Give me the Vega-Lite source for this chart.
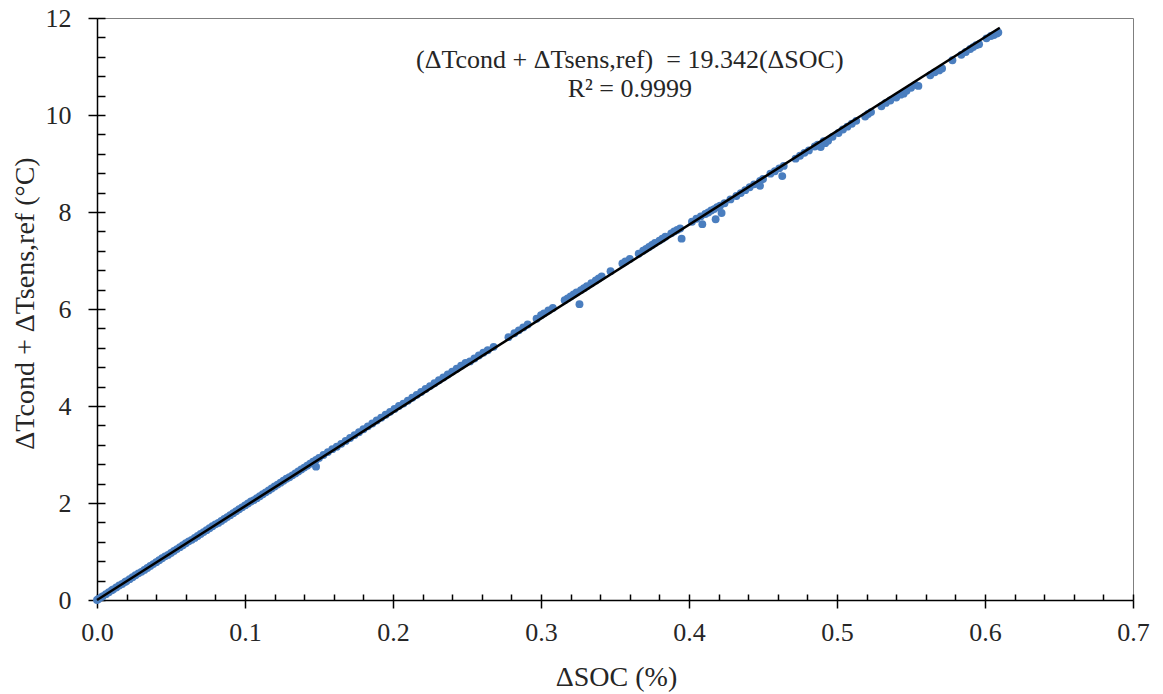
{
  "$schema": "https://vega.github.io/schema/vega-lite/v6.json",
  "width": 1036,
  "height": 582,
  "autosize": {"type": "none"},
  "padding": {"left": 97, "top": 18, "right": 30, "bottom": 94},
  "background": "white",
  "config": {
    "view": {"stroke": "#7f7f7f", "strokeWidth": 1},
    "axis": {"labelFont": "Liberation Serif", "titleFont": "Liberation Serif", "labelColor": "#262626", "titleColor": "#262626", "grid": false, "domainColor": "#000000", "tickColor": "#000000", "domainWidth": 1.5, "tickWidth": 1.5, "labelFlush": false, "labelOverlap": false}
  },
  "datasets": {
    "pts": [
      {"soc": 0.000, "dT": 0.00}, {"soc": 0.001, "dT": 0.02}, {"soc": 0.003, "dT": 0.06}, {"soc": 0.004, "dT": 0.08},
      {"soc": 0.006, "dT": 0.12}, {"soc": 0.008, "dT": 0.16}, {"soc": 0.010, "dT": 0.20}, {"soc": 0.011, "dT": 0.22},
      {"soc": 0.013, "dT": 0.26}, {"soc": 0.015, "dT": 0.30}, {"soc": 0.017, "dT": 0.33}, {"soc": 0.019, "dT": 0.37},
      {"soc": 0.020, "dT": 0.39}, {"soc": 0.022, "dT": 0.43}, {"soc": 0.024, "dT": 0.47}, {"soc": 0.026, "dT": 0.51},
      {"soc": 0.028, "dT": 0.55}, {"soc": 0.030, "dT": 0.58}, {"soc": 0.032, "dT": 0.62}, {"soc": 0.034, "dT": 0.66},
      {"soc": 0.036, "dT": 0.70}, {"soc": 0.038, "dT": 0.74}, {"soc": 0.040, "dT": 0.78}, {"soc": 0.042, "dT": 0.82},
      {"soc": 0.044, "dT": 0.86}, {"soc": 0.046, "dT": 0.90}, {"soc": 0.048, "dT": 0.93}, {"soc": 0.050, "dT": 0.97},
      {"soc": 0.052, "dT": 1.01}, {"soc": 0.054, "dT": 1.05}, {"soc": 0.056, "dT": 1.09}, {"soc": 0.058, "dT": 1.13},
      {"soc": 0.060, "dT": 1.17}, {"soc": 0.062, "dT": 1.21}, {"soc": 0.064, "dT": 1.24}, {"soc": 0.066, "dT": 1.28},
      {"soc": 0.068, "dT": 1.32}, {"soc": 0.070, "dT": 1.36}, {"soc": 0.072, "dT": 1.40}, {"soc": 0.074, "dT": 1.44},
      {"soc": 0.076, "dT": 1.48}, {"soc": 0.078, "dT": 1.52}, {"soc": 0.080, "dT": 1.56}, {"soc": 0.082, "dT": 1.59},
      {"soc": 0.084, "dT": 1.63}, {"soc": 0.086, "dT": 1.67}, {"soc": 0.088, "dT": 1.71}, {"soc": 0.090, "dT": 1.75},
      {"soc": 0.092, "dT": 1.79}, {"soc": 0.094, "dT": 1.83}, {"soc": 0.096, "dT": 1.87}, {"soc": 0.098, "dT": 1.91},
      {"soc": 0.100, "dT": 1.95}, {"soc": 0.102, "dT": 1.99}, {"soc": 0.104, "dT": 2.03}, {"soc": 0.106, "dT": 2.06},
      {"soc": 0.108, "dT": 2.10}, {"soc": 0.110, "dT": 2.14}, {"soc": 0.112, "dT": 2.18}, {"soc": 0.114, "dT": 2.22},
      {"soc": 0.116, "dT": 2.26}, {"soc": 0.118, "dT": 2.30}, {"soc": 0.120, "dT": 2.34}, {"soc": 0.122, "dT": 2.38},
      {"soc": 0.124, "dT": 2.42}, {"soc": 0.126, "dT": 2.46}, {"soc": 0.128, "dT": 2.50}, {"soc": 0.130, "dT": 2.53},
      {"soc": 0.132, "dT": 2.57}, {"soc": 0.134, "dT": 2.61}, {"soc": 0.136, "dT": 2.65}, {"soc": 0.138, "dT": 2.69},
      {"soc": 0.140, "dT": 2.73}, {"soc": 0.142, "dT": 2.77}, {"soc": 0.144, "dT": 2.81}, {"soc": 0.146, "dT": 2.85},
      {"soc": 0.148, "dT": 2.89}, {"soc": 0.148, "dT": 2.75}, {"soc": 0.150, "dT": 2.93}, {"soc": 0.153, "dT": 2.99},
      {"soc": 0.156, "dT": 3.05}, {"soc": 0.159, "dT": 3.11}, {"soc": 0.162, "dT": 3.16}, {"soc": 0.165, "dT": 3.22},
      {"soc": 0.168, "dT": 3.28}, {"soc": 0.171, "dT": 3.34}, {"soc": 0.174, "dT": 3.40}, {"soc": 0.177, "dT": 3.46},
      {"soc": 0.180, "dT": 3.52}, {"soc": 0.183, "dT": 3.58}, {"soc": 0.186, "dT": 3.64}, {"soc": 0.189, "dT": 3.70},
      {"soc": 0.192, "dT": 3.76}, {"soc": 0.195, "dT": 3.82}, {"soc": 0.198, "dT": 3.88}, {"soc": 0.201, "dT": 3.94},
      {"soc": 0.204, "dT": 4.00}, {"soc": 0.207, "dT": 4.05}, {"soc": 0.210, "dT": 4.11}, {"soc": 0.213, "dT": 4.17},
      {"soc": 0.216, "dT": 4.23}, {"soc": 0.219, "dT": 4.29}, {"soc": 0.222, "dT": 4.35}, {"soc": 0.225, "dT": 4.41},
      {"soc": 0.228, "dT": 4.47}, {"soc": 0.231, "dT": 4.53}, {"soc": 0.234, "dT": 4.59}, {"soc": 0.237, "dT": 4.65},
      {"soc": 0.240, "dT": 4.71}, {"soc": 0.243, "dT": 4.77}, {"soc": 0.246, "dT": 4.83}, {"soc": 0.249, "dT": 4.89},
      {"soc": 0.252, "dT": 4.92}, {"soc": 0.255, "dT": 4.98}, {"soc": 0.258, "dT": 5.04}, {"soc": 0.261, "dT": 5.10},
      {"soc": 0.264, "dT": 5.15}, {"soc": 0.268, "dT": 5.22}, {"soc": 0.278, "dT": 5.42}, {"soc": 0.282, "dT": 5.50},
      {"soc": 0.285, "dT": 5.56}, {"soc": 0.288, "dT": 5.62}, {"soc": 0.291, "dT": 5.68}, {"soc": 0.297, "dT": 5.80},
      {"soc": 0.300, "dT": 5.87}, {"soc": 0.302, "dT": 5.91}, {"soc": 0.305, "dT": 5.97}, {"soc": 0.308, "dT": 6.02},
      {"soc": 0.316, "dT": 6.18}, {"soc": 0.318, "dT": 6.22}, {"soc": 0.320, "dT": 6.26}, {"soc": 0.322, "dT": 6.30},
      {"soc": 0.324, "dT": 6.34}, {"soc": 0.326, "dT": 6.10}, {"soc": 0.327, "dT": 6.39}, {"soc": 0.329, "dT": 6.43},
      {"soc": 0.331, "dT": 6.47}, {"soc": 0.334, "dT": 6.53}, {"soc": 0.337, "dT": 6.59}, {"soc": 0.339, "dT": 6.63},
      {"soc": 0.341, "dT": 6.67}, {"soc": 0.347, "dT": 6.78}, {"soc": 0.355, "dT": 6.94}, {"soc": 0.357, "dT": 6.98},
      {"soc": 0.360, "dT": 7.03}, {"soc": 0.366, "dT": 7.14}, {"soc": 0.369, "dT": 7.20}, {"soc": 0.371, "dT": 7.24},
      {"soc": 0.373, "dT": 7.28}, {"soc": 0.375, "dT": 7.32}, {"soc": 0.377, "dT": 7.36}, {"soc": 0.380, "dT": 7.41},
      {"soc": 0.382, "dT": 7.45}, {"soc": 0.384, "dT": 7.49}, {"soc": 0.388, "dT": 7.56}, {"soc": 0.390, "dT": 7.60},
      {"soc": 0.392, "dT": 7.63}, {"soc": 0.394, "dT": 7.66}, {"soc": 0.395, "dT": 7.45}, {"soc": 0.402, "dT": 7.80},
      {"soc": 0.405, "dT": 7.86}, {"soc": 0.408, "dT": 7.91}, {"soc": 0.409, "dT": 7.75}, {"soc": 0.411, "dT": 7.96},
      {"soc": 0.413, "dT": 7.99}, {"soc": 0.415, "dT": 8.03}, {"soc": 0.417, "dT": 8.06}, {"soc": 0.419, "dT": 8.10},
      {"soc": 0.418, "dT": 7.85}, {"soc": 0.422, "dT": 7.98}, {"soc": 0.421, "dT": 8.13}, {"soc": 0.424, "dT": 8.18},
      {"soc": 0.428, "dT": 8.26}, {"soc": 0.432, "dT": 8.33}, {"soc": 0.435, "dT": 8.39}, {"soc": 0.438, "dT": 8.45},
      {"soc": 0.441, "dT": 8.51}, {"soc": 0.444, "dT": 8.57}, {"soc": 0.448, "dT": 8.54}, {"soc": 0.448, "dT": 8.64},
      {"soc": 0.450, "dT": 8.68}, {"soc": 0.455, "dT": 8.79}, {"soc": 0.458, "dT": 8.84}, {"soc": 0.461, "dT": 8.90},
      {"soc": 0.463, "dT": 8.74}, {"soc": 0.464, "dT": 8.95}, {"soc": 0.472, "dT": 9.10}, {"soc": 0.475, "dT": 9.16},
      {"soc": 0.478, "dT": 9.22}, {"soc": 0.481, "dT": 9.27}, {"soc": 0.485, "dT": 9.35}, {"soc": 0.487, "dT": 9.39},
      {"soc": 0.489, "dT": 9.34}, {"soc": 0.491, "dT": 9.46}, {"soc": 0.492, "dT": 9.42}, {"soc": 0.494, "dT": 9.47},
      {"soc": 0.497, "dT": 9.55}, {"soc": 0.501, "dT": 9.63}, {"soc": 0.504, "dT": 9.70}, {"soc": 0.507, "dT": 9.76},
      {"soc": 0.510, "dT": 9.82}, {"soc": 0.513, "dT": 9.88}, {"soc": 0.519, "dT": 9.97}, {"soc": 0.521, "dT": 10.02},
      {"soc": 0.523, "dT": 10.06}, {"soc": 0.530, "dT": 10.18}, {"soc": 0.533, "dT": 10.25}, {"soc": 0.536, "dT": 10.30},
      {"soc": 0.540, "dT": 10.36}, {"soc": 0.543, "dT": 10.42}, {"soc": 0.545, "dT": 10.44}, {"soc": 0.547, "dT": 10.50},
      {"soc": 0.550, "dT": 10.56}, {"soc": 0.553, "dT": 10.62}, {"soc": 0.555, "dT": 10.60}, {"soc": 0.563, "dT": 10.82},
      {"soc": 0.566, "dT": 10.88}, {"soc": 0.569, "dT": 10.92}, {"soc": 0.571, "dT": 10.96}, {"soc": 0.578, "dT": 11.13},
      {"soc": 0.584, "dT": 11.24}, {"soc": 0.587, "dT": 11.30}, {"soc": 0.590, "dT": 11.36}, {"soc": 0.592, "dT": 11.40},
      {"soc": 0.594, "dT": 11.44}, {"soc": 0.596, "dT": 11.46}, {"soc": 0.601, "dT": 11.58}, {"soc": 0.604, "dT": 11.63},
      {"soc": 0.606, "dT": 11.65}, {"soc": 0.608, "dT": 11.68}, {"soc": 0.609, "dT": 11.70}
    ],
    "fit": [{"soc": 0.0, "dT": 0.0}, {"soc": 0.61, "dT": 11.8}],
    "eq": [
      {"soc": 0.36, "dT": 11.13, "label": "(ΔTcond + ΔTsens,ref)\u00a0 = 19.342(ΔSOC)"},
      {"soc": 0.36, "dT": 10.54, "label": "R² = 0.9999"}
    ]
  },
  "resolve": {"scale": {"x": "independent", "y": "independent"}, "axis": {"x": "independent", "y": "independent"}},
  "layer": [
    {
      "data": {"name": "pts"},
      "mark": {"type": "circle", "size": 62, "color": "#4a7ebf", "opacity": 1},
      "encoding": {
        "x": {"field": "soc", "type": "quantitative", "scale": {"domain": [0, 0.7], "nice": false, "zero": true},
          "axis": {"orient": "bottom", "values": [0, 0.1, 0.2, 0.3, 0.4, 0.5, 0.6, 0.7], "format": ".1f", "tickSize": 8, "labelPadding": 11, "labelFontSize": 26, "title": "ΔSOC (%)", "titleFontSize": 28, "titleFontWeight": "normal", "titleX": 519, "titleY": 77, "titleBaseline": "middle", "titleAlign": "center"}},
        "y": {"field": "dT", "type": "quantitative", "scale": {"domain": [0, 12], "nice": false},
          "axis": {"orient": "left", "values": [0, 2, 4, 6, 8, 10, 12], "tickSize": 9, "labelPadding": 17, "labelFontSize": 26, "title": "ΔTcond + ΔTsens,ref (°C)", "titleFontSize": 28, "titleFontWeight": "normal", "titleAngle": -90, "titleX": -72, "titleY": 285, "titleAlign": "center", "titleBaseline": "middle"}}
      }
    },
    {
      "data": {"name": "fit"},
      "mark": {"type": "line", "color": "#000000", "strokeWidth": 2.5},
      "encoding": {
        "x": {"field": "soc", "type": "quantitative", "scale": {"domain": [0, 0.7], "nice": false, "zero": true},
          "axis": {"orient": "bottom", "values": [0, 0.02, 0.04, 0.06, 0.08, 0.1, 0.12, 0.14, 0.16, 0.18, 0.2, 0.22, 0.24, 0.26, 0.28, 0.3, 0.32, 0.34, 0.36, 0.38, 0.4, 0.42, 0.44, 0.46, 0.48, 0.5, 0.52, 0.54, 0.56, 0.58, 0.6, 0.62, 0.64, 0.66, 0.68, 0.7],
            "tickSize": -6, "labels": false, "title": null, "domain": false}},
        "y": {"field": "dT", "type": "quantitative", "scale": {"domain": [0, 12], "nice": false},
          "axis": {"orient": "left", "values": [0, 0.4, 0.8, 1.2, 1.6, 2, 2.4, 2.8, 3.2, 3.6, 4, 4.4, 4.8, 5.2, 5.6, 6, 6.4, 6.8, 7.2, 7.6, 8, 8.4, 8.8, 9.2, 9.6, 10, 10.4, 10.8, 11.2, 11.6, 12],
            "tickSize": -8, "labels": false, "title": null, "domain": false}}
      }
    },
    {
      "data": {"name": "eq"},
      "mark": {"type": "text", "font": "Liberation Serif", "fontSize": 26, "color": "#262626", "align": "center", "baseline": "middle"},
      "encoding": {
        "x": {"field": "soc", "type": "quantitative", "scale": {"domain": [0, 0.7], "nice": false, "zero": true}, "axis": null},
        "y": {"field": "dT", "type": "quantitative", "scale": {"domain": [0, 12], "nice": false}, "axis": null},
        "text": {"field": "label"}
      }
    }
  ]
}
